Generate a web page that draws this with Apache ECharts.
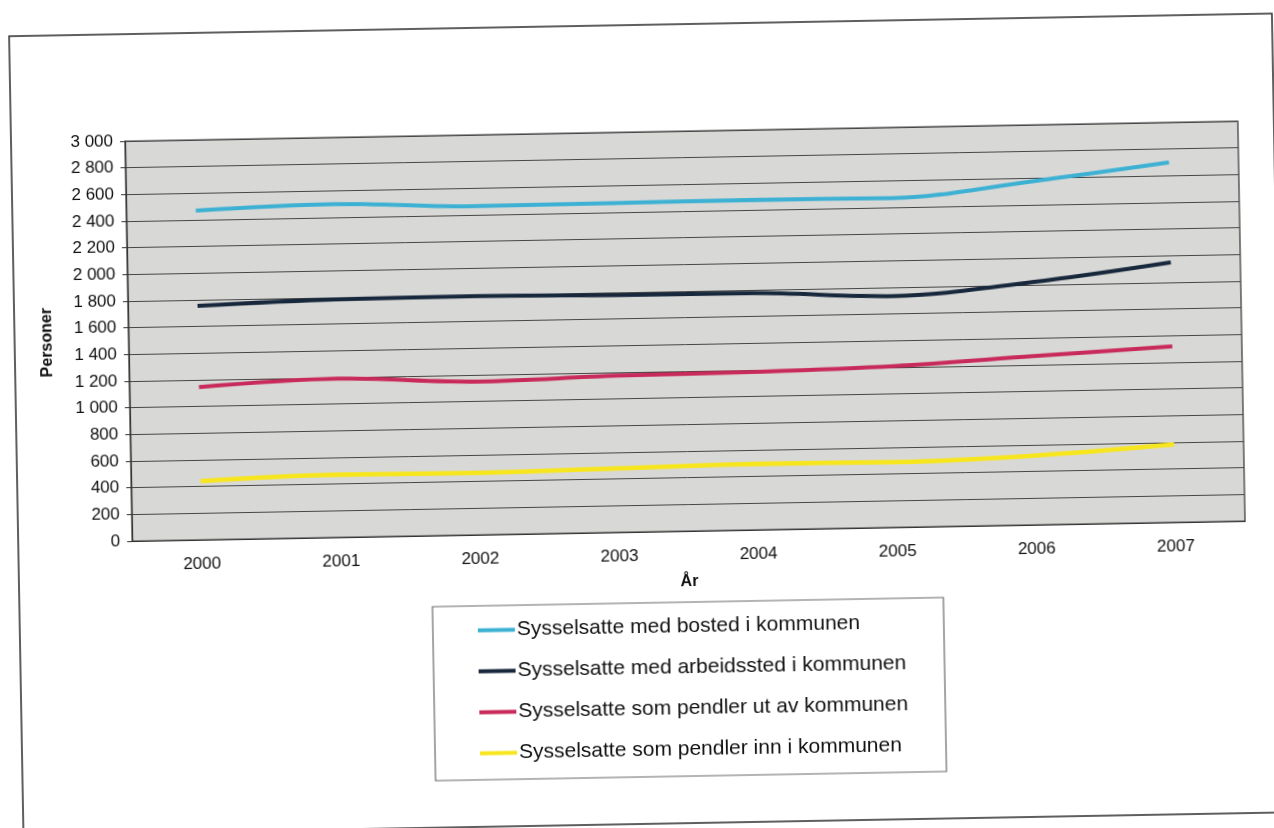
<!DOCTYPE html>
<html>
<head>
<meta charset="utf-8">
<script src="https://cdn.jsdelivr.net/npm/echarts@6/dist/echarts.min.js"></script>
<style>
  html, body { margin: 0; padding: 0; background: #ffffff; overflow: hidden; }
  #wrap { position: absolute; left: 0; top: 0; width: 1274px; height: 828px;
          transform: rotate(-1.03deg); transform-origin: 637px 414px; }
  #chart { width: 1290px; height: 828px; }
</style>
</head>
<body>
<div id="wrap"><div id="chart"></div></div>
<script>
// ---- data ----
const years = ['2000', '2001', '2002', '2003', '2004', '2005', '2006', '2007'];
const seriesNames = [
  'Sysselsatte med bosted i kommunen',
  'Sysselsatte med arbeidssted i kommunen',
  'Sysselsatte som pendler ut av kommunen',
  'Sysselsatte som pendler inn i kommunen'
];
const bosted      = [2470, 2500, 2465, 2470, 2475, 2470, 2575, 2700];
const arbeidssted = [1755, 1785, 1790, 1780, 1775, 1735, 1820, 1950];
const pendlerUt   = [1145, 1190, 1150, 1175, 1185, 1210, 1265, 1320];
const pendlerInn  = [ 440,  470,  465,  480,  495,  490,  520,  585];
const yTicks = { min: 0, max: 3000, step: 200 };
const yAxisTitle = 'Personer';
const xAxisTitle = 'År';

// ---- styling ----
const colors = ['#3db1d3', '#18283c', '#c92a5c', '#f7e61e'];
const widths = [4, 4, 4, 4.5];
const FONT = '"Liberation Sans", Arial, Helvetica, sans-serif';
const INK = '#111111';

function fmt(v) { return String(v).replace(/\B(?=(\d{3})+(?!\d))/g, ' '); }

const values = [bosted, arbeidssted, pendlerUt, pendlerInn];
const series = values.map((d, i) => ({
  name: seriesNames[i],
  type: 'line',
  data: d,
  smooth: 0.35,
  symbol: 'none',
  color: colors[i],
  lineStyle: { width: widths[i], color: colors[i] },
  z: 3
}));

const chart = echarts.init(document.getElementById('chart'), null, { renderer: 'canvas' });
chart.setOption({
  animation: false,
  backgroundColor: '#ffffff',
  textStyle: { fontFamily: FONT },
  graphic: [
    { type: 'rect', z: 0, silent: true,
      shape: { x: 16, y: 25, width: 1263, height: 799 },
      style: { fill: 'none', stroke: '#2b2b2b', lineWidth: 1.5 } },
    { type: 'rect', z: 0, silent: true,
      shape: { x: 429, y: 603, width: 511, height: 174 },
      style: { fill: '#ffffff', stroke: '#6a6a6a', lineWidth: 1.2 } }
  ],
  grid: {
    left: 130, top: 132, width: 1113, height: 400,
    show: true, backgroundColor: '#d8d8d6', borderColor: '#333333', borderWidth: 1.2
  },
  legend: {
    data: seriesNames,
    orient: 'vertical',
    left: 474, top: 617,
    itemGap: 20,
    itemWidth: 37, itemHeight: 4,
    icon: 'rect',
    padding: 0,
    textStyle: { fontFamily: FONT, fontSize: 21, color: INK, padding: [0, 0, 0, -3] }
  },
  xAxis: {
    type: 'category',
    data: years,
    boundaryGap: true,
    name: xAxisTitle,
    nameLocation: 'middle',
    nameGap: 43,
    nameTextStyle: { fontFamily: FONT, fontSize: 16, fontWeight: 'bold', color: INK },
    axisLine: { show: true, lineStyle: { color: '#333333', width: 1.2 } },
    axisTick: { show: false },
    axisLabel: { margin: 16, fontFamily: FONT, fontSize: 17, color: INK },
    splitLine: { show: false }
  },
  yAxis: {
    type: 'value',
    min: yTicks.min, max: yTicks.max, interval: yTicks.step,
    name: yAxisTitle,
    nameLocation: 'middle',
    nameGap: 73,
    nameTextStyle: { fontFamily: FONT, fontSize: 16, fontWeight: 'bold', color: INK },
    axisLine: { show: true, lineStyle: { color: '#333333', width: 1.2 } },
    axisTick: { show: true, inside: false, length: 5, lineStyle: { color: '#333333' } },
    axisLabel: { margin: 12, fontFamily: FONT, fontSize: 17, color: INK, formatter: fmt },
    splitLine: { show: true, lineStyle: { color: '#464646', width: 1 } }
  },
  series: series
});
</script>
</body>
</html>
